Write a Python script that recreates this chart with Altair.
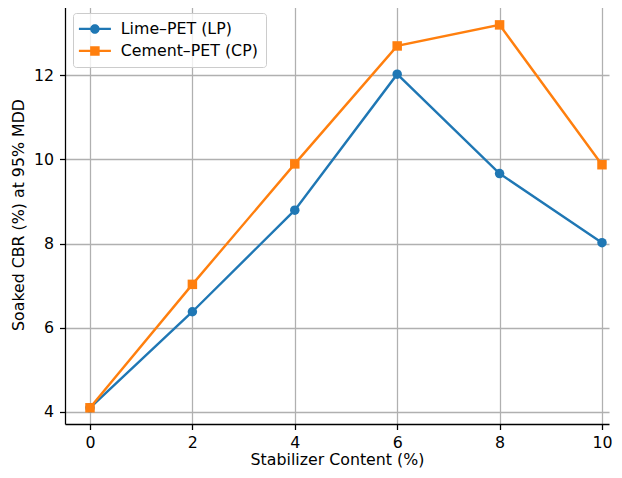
import altair as alt
import pandas as pd

# ---- data ----
content = [0, 2, 4, 6, 8, 10]
lp_cbr = [4.10, 6.38, 8.79, 12.02, 9.66, 8.02]
cp_cbr = [4.10, 7.03, 9.89, 12.69, 13.19, 9.87]
series = ["Lime–PET (LP)", "Cement–PET (CP)"]
colors = ["#1f77b4", "#ff7f0e"]
shapes = ["circle", "square"]
x_ticks = [0, 2, 4, 6, 8, 10]
y_ticks = [4, 6, 8, 10, 12]

df = pd.DataFrame({
    "content": content + content,
    "cbr": lp_cbr + cp_cbr,
    "series": [series[0]] * len(content) + [series[1]] * len(content),
})

W, H = 544, 419
FONT = "DejaVu Sans"
FS = 15.8

# legend symbols: line + marker (unit = sqrt(size)/2 = 5px)
legend_paths = [
    "M-3.2,-0.24H3.2V0.24H-3.2Z M0.95,0A0.95,0.95,0,1,1,-0.95,0A0.95,0.95,0,1,1,0.95,0Z",
    "M-3.2,-0.24H3.2V0.24H-3.2Z M-0.95,-0.95H0.95V0.95H-0.95Z",
]

x_enc = alt.X(
    "content:Q",
    scale=alt.Scale(domain=[-0.488, 10.137], nice=False, zero=False),
    axis=alt.Axis(values=x_ticks, title="Stabilizer Content (%)", labelPadding=5.5,
                  titlePadding=2.5, format="d"),
)
y_enc = alt.Y(
    "cbr:Q",
    scale=alt.Scale(domain=[3.715, 13.662], nice=False, zero=False),
    axis=alt.Axis(values=y_ticks, title="Soaked CBR (%) at 95% MDD", labelPadding=6,
                  titlePadding=7, format="d"),
)

base = alt.Chart(df).encode(x=x_enc, y=y_enc)

layers = []
for s, c, shp in zip(series, colors, shapes):
    sub = base.transform_filter(alt.datum.series == s)
    layers.append(sub.mark_line(color=c, strokeWidth=2.4))
    layers.append(sub.mark_point(filled=True, shape=shp, size=90, color=c, opacity=1))

leg = alt.Legend(
    title=None, orient="top-left", offset=8, padding=8,
    fillColor="rgba(255,255,255,0.8)", strokeColor="#cccccc", cornerRadius=3,
    symbolSize=100, symbolStrokeWidth=0, symbolOffset=6, labelOffset=18,
    rowPadding=5, labelFontSize=FS, labelFont=FONT, labelColor="black",
    symbolOpacity=1, labelLimit=300,
)
legend_layer = alt.Chart(df).transform_filter("false").mark_point(
    filled=True, opacity=1, size=100
).encode(
    color=alt.Color("series:N", scale=alt.Scale(domain=series, range=colors), legend=leg),
    shape=alt.Shape("series:N", scale=alt.Scale(domain=series, range=legend_paths), legend=leg),
)

frame_df = pd.DataFrame({"k": [0]})
top_spine = alt.Chart(frame_df).mark_rule(color="black", strokeWidth=1.27).encode(
    x=alt.value(0), x2=alt.value(W), y=alt.value(0)
)

chart = alt.layer(*layers, legend_layer, top_spine).properties(
    width=W, height=H,
    autosize=alt.AutoSizeParams(type="none"),
    padding={"left": 57, "top": -3, "right": 5, "bottom": 46},
).configure_view(stroke=None).configure_axis(
    domainColor="black", domainWidth=1.27, tickColor="black", tickWidth=1.27, tickSize=5.5,
    grid=True, gridColor="#b0b0b0", gridWidth=1.27,
    labelFont=FONT, labelFontSize=FS, labelColor="black",
    titleFont=FONT, titleFontSize=FS, titleFontWeight="normal", titleColor="black",
)

chart.save("out.html", embed_options={"renderer": "svg", "actions": False})
